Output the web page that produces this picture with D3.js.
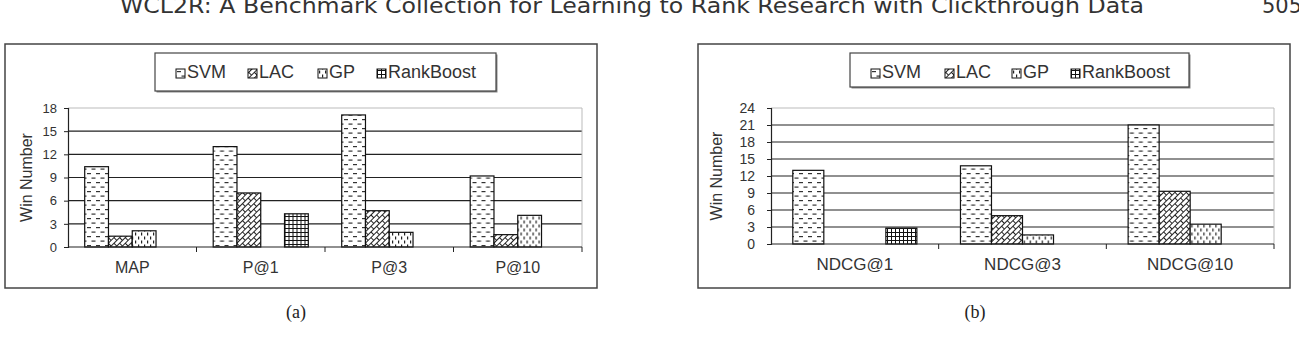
<!DOCTYPE html>
<html>
<head>
<meta charset="utf-8">
<script src="https://cdn.jsdelivr.net/npm/d3@7"></script>
<style>
  body { margin: 0; background: #fff; }
  svg { display: block; }
</style>
</head>
<body>
<svg width="1299" height="338"></svg>
<script>
// series + categories
const seriesNames = ["SVM", "LAC", "GP", "RankBoost"];

const catsA = ["MAP", "P@1", "P@3", "P@10"];
const svmA = [10.4, 13, 17.1, 9.2];
const lacA = [1.4, 7, 4.7, 1.6];
const gpA = [2.1, 0, 1.9, 4.1];
const rbA = [0, 4.3, 0, 0];
const ticksA = [0, 3, 6, 9, 12, 15, 18];

const catsB = ["NDCG@1", "NDCG@3", "NDCG@10"];
const svmB = [13, 13.8, 21];
const lacB = [0, 5, 9.3];
const gpB = [0, 1.6, 3.5];
const rbB = [2.8, 0, 0];
const ticksB = [0, 3, 6, 9, 12, 15, 18, 21, 24];

const svg = d3.select("svg");
const FONT = "'Liberation Sans', Arial, sans-serif";

// fill patterns, roughly the excel ones
const defs = svg.append("defs");
function pat(id, w, h, draw, tf) {
  const p = defs.append("pattern").attr("id", id)
    .attr("patternUnits", "userSpaceOnUse")
    .attr("width", w).attr("height", h);
  if (tf) p.attr("patternTransform", tf);
  p.append("rect").attr("width", w).attr("height", h).attr("fill", "#fff");
  draw(p);
}
pat("p-svm", 9, 9, p => {
  p.append("rect").attr("x", 1).attr("y", 2).attr("width", 4).attr("height", 1.2).attr("fill", "#333");
  p.append("rect").attr("x", 5.5).attr("y", 6.5).attr("width", 4).attr("height", 1.2).attr("fill", "#333");
  p.append("rect").attr("x", 0).attr("y", 6.5).attr("width", 0.5).attr("height", 1.2).attr("fill", "#333");
});
pat("p-lac", 8, 8, p => {
  p.append("path").attr("d", "M0,0.5H8M0,4.5H8M0.5,0.5V4.5M4.5,4.5V8.5")
    .attr("stroke", "#222").attr("stroke-width", 1).attr("fill", "none");
}, "rotate(-45)");
pat("p-gp", 6, 8, p => {
  p.append("rect").attr("x", 1).attr("y", 0.5).attr("width", 1.2).attr("height", 3).attr("fill", "#222");
  p.append("rect").attr("x", 4).attr("y", 4.5).attr("width", 1.2).attr("height", 3).attr("fill", "#222");
});
pat("p-rb", 4, 4, p => {
  p.append("path").attr("d", "M0,0.5H4M0.5,0V4")
    .attr("stroke", "#111").attr("stroke-width", 1).attr("fill", "none");
});
const fills = ["url(#p-svm)", "url(#p-lac)", "url(#p-gp)", "url(#p-rb)"];

function drawChart(o) {
  const g = svg.append("g");
  // outer frame
  g.append("rect").attr("x", o.box[0]).attr("y", o.box[1])
    .attr("width", o.box[2] - o.box[0]).attr("height", o.box[3] - o.box[1])
    .attr("fill", "#fff").attr("stroke", "#444").attr("stroke-width", 1.5);

  const x = d3.scaleBand().domain(o.cats).range([o.left, o.right]);
  const bw = x.bandwidth();
  const x1 = d3.scaleBand().domain(seriesNames).range([bw * 0.13, bw * 0.87]);
  const y = d3.scaleLinear().domain([0, d3.max(o.ticks)]).range([o.bottom, o.top]);

  // gridlines
  g.append("g").selectAll("line").data(o.ticks.slice(1)).join("line")
    .attr("x1", o.left).attr("x2", o.right)
    .attr("y1", d => y(d)).attr("y2", d => y(d))
    .attr("stroke", (d, i, n) => i === n.length - 1 ? "#bbb" : "#222")
    .attr("stroke-width", 1.2);
  g.append("line").attr("x1", o.right).attr("x2", o.right)
    .attr("y1", o.top).attr("y2", o.bottom).attr("stroke", "#bbb");

  // bars
  const rows = o.cats.map((c, i) => ({ c, v: o.vals.map(s => s[i]) }));
  const grp = g.append("g").selectAll("g").data(rows).join("g")
    .attr("transform", d => `translate(${x(d.c)},0)`);
  grp.selectAll("rect").data(d => d.v.map((v, k) => ({ v, k })).filter(e => e.v > 0))
    .join("rect")
    .attr("x", e => x1(seriesNames[e.k]))
    .attr("width", x1.bandwidth())
    .attr("y", e => y(e.v))
    .attr("height", e => o.bottom - y(e.v))
    .attr("fill", e => fills[e.k])
    .attr("stroke", "#111").attr("stroke-width", 1.2);

  // y axis
  const ya = g.append("g").attr("transform", `translate(${o.left},0)`)
    .call(d3.axisLeft(y).tickValues(o.ticks).tickSize(4).tickPadding(o.tickPad));
  ya.select(".domain").attr("stroke", "#222").attr("stroke-width", 1.2);
  ya.selectAll(".tick line").attr("stroke", "#222");
  ya.selectAll("text").attr("font-family", FONT).attr("font-size", o.tickFont).attr("fill", "#333");

  // x axis, ticks between categories
  const xa = g.append("g").attr("transform", `translate(0,${o.bottom})`);
  xa.append("line").attr("x1", o.left).attr("x2", o.right).attr("stroke", "#222").attr("stroke-width", 1.2);
  xa.selectAll(".xt").data(o.cats.slice(1).map(c => x(c)).concat([o.right])).join("line")
    .attr("x1", d => d).attr("x2", d => d).attr("y1", 0).attr("y2", 5).attr("stroke", "#222");
  xa.selectAll("text").data(o.cats).join("text")
    .attr("x", d => x(d) + bw / 2).attr("y", o.labelY - o.bottom)
    .attr("text-anchor", "middle").attr("font-family", FONT)
    .attr("font-size", o.labelFont).attr("fill", "#333").text(d => d);

  // axis title
  g.append("text").attr("transform", `translate(${o.titleX},${(o.top + o.bottom) / 2}) rotate(-90)`)
    .attr("text-anchor", "middle").attr("font-family", FONT).attr("font-size", 16)
    .attr("fill", "#333").text("Win Number");

  // legend
  const L = o.legend;
  g.append("rect").attr("x", L.x0 + 1.5).attr("y", L.y0 + 1.5)
    .attr("width", L.x1 - L.x0).attr("height", L.y1 - L.y0).attr("fill", "#888");
  g.append("rect").attr("x", L.x0).attr("y", L.y0)
    .attr("width", L.x1 - L.x0).attr("height", L.y1 - L.y0)
    .attr("fill", "#fff").attr("stroke", "#444").attr("stroke-width", 1.2);
  const li = g.append("g").selectAll("g").data(seriesNames).join("g")
    .attr("transform", (d, i) => `translate(${L.items[i]},${L.base})`);
  li.append("rect").attr("x", 0).attr("y", -9).attr("width", 9).attr("height", 9)
    .attr("fill", (d, i) => fills[i]).attr("stroke", "#111");
  li.append("text").attr("x", 11).attr("y", 0).attr("font-family", FONT)
    .attr("font-size", 18).attr("fill", "#333").text(d => d);
}

drawChart({
  box: [5, 44, 597, 288],
  cats: catsA, vals: [svmA, lacA, gpA, rbA], ticks: ticksA,
  left: 68, right: 582, top: 108, bottom: 247,
  tickFont: 13, tickPad: 7, labelFont: 16, labelY: 273, titleX: 32,
  legend: { x0: 155, y0: 53, x1: 496, y1: 91, base: 78, items: [176, 248, 318, 377] }
});
drawChart({
  box: [698, 44, 1290, 288],
  cats: catsB, vals: [svmB, lacB, gpB, rbB], ticks: ticksB,
  left: 771, right: 1274, top: 108, bottom: 244,
  tickFont: 14, tickPad: 12, labelFont: 17, labelY: 270, titleX: 722,
  legend: { x0: 850, y0: 53, x1: 1189, y1: 87, base: 78, items: [871, 945, 1012, 1071] }
});

// page header (cut off at top, as in the scan) and sub-captions
svg.append("text").attr("x", 120).attr("y", 13)
  .attr("font-family", "'DejaVu Sans', sans-serif").attr("font-size", 21)
  .attr("fill", "#333").attr("textLength", 1024).attr("lengthAdjust", "spacingAndGlyphs")
  .text("WCL2R: A Benchmark Collection for Learning to Rank Research with Clickthrough Data");
svg.append("text").attr("x", 1262).attr("y", 13)
  .attr("font-family", "'DejaVu Sans', sans-serif").attr("font-size", 21)
  .attr("fill", "#333").text("505");
svg.selectAll(".cap").data([["(a)", 296], ["(b)", 975]]).join("text")
  .attr("x", d => d[1]).attr("y", 318).attr("text-anchor", "middle")
  .attr("font-family", "'Liberation Serif', serif").attr("font-size", 18)
  .attr("fill", "#222").text(d => d[0]);
</script>
</body>
</html>
